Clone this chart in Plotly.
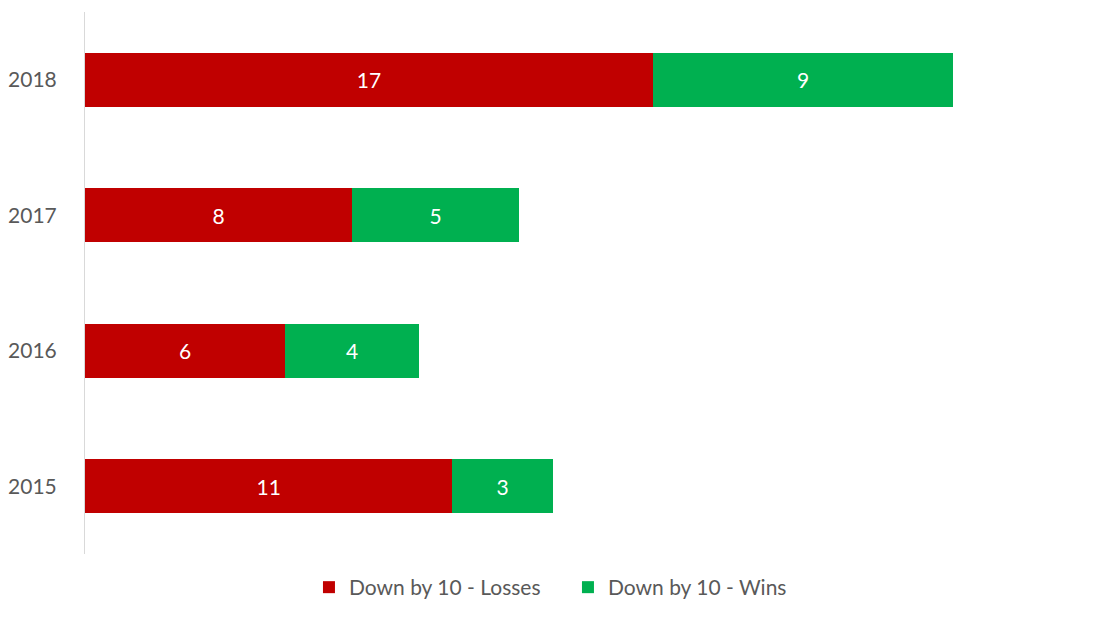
import plotly.graph_objects as go

years = ["2015", "2016", "2017", "2018"]
losses = [11, 6, 8, 17]
wins = [3, 4, 5, 9]

font_name = "Lato"
grey_text = "#595959"

fig = go.Figure(
    data=[
        go.Bar(
            name="Down by 10 - Losses",
            y=years,
            x=losses,
            orientation="h",
            marker=dict(color="#C00000", line=dict(width=0)),
            text=losses,
            textposition="inside",
            insidetextanchor="middle",
            textangle=0,
            textfont=dict(color="white", size=21, family=font_name),
        ),
        go.Bar(
            name="Down by 10 - Wins",
            y=years,
            x=wins,
            orientation="h",
            marker=dict(color="#00B050", line=dict(width=0)),
            text=wins,
            textposition="inside",
            insidetextanchor="middle",
            textangle=0,
            textfont=dict(color="white", size=21, family=font_name),
        ),
    ]
)

fig.update_layout(
    barmode="stack",
    bargap=0.6,
    plot_bgcolor="white",
    paper_bgcolor="white",
    width=1100,
    height=619,
    font=dict(family=font_name, size=21, color=grey_text),
    margin=dict(l=85, r=13, t=12, b=65, autoexpand=False),
    showlegend=True,
    legend=dict(
        orientation="h",
        x=0.482,
        xanchor="center",
        y=-0.024,
        yanchor="top",
        font=dict(size=21, color=grey_text),
        traceorder="normal",
        entrywidth=214,
        entrywidthmode="pixels",
    ),
)
fig.update_xaxes(
    range=[0, 30],
    showgrid=False,
    showticklabels=False,
    zeroline=False,
    showline=False,
)
fig.update_yaxes(
    automargin=False,
    showline=True,
    linecolor="#D9D9D9",
    linewidth=1,
    showgrid=False,
    ticklabelstandoff=23,
    tickfont=dict(size=21, color=grey_text),
)

# drop the default 8px body margin so the figure sits at the page corner
fig.write_html(
    "out.html",
    config={"displayModeBar": False},
    post_script="document.body.style.margin='0px';",
)
